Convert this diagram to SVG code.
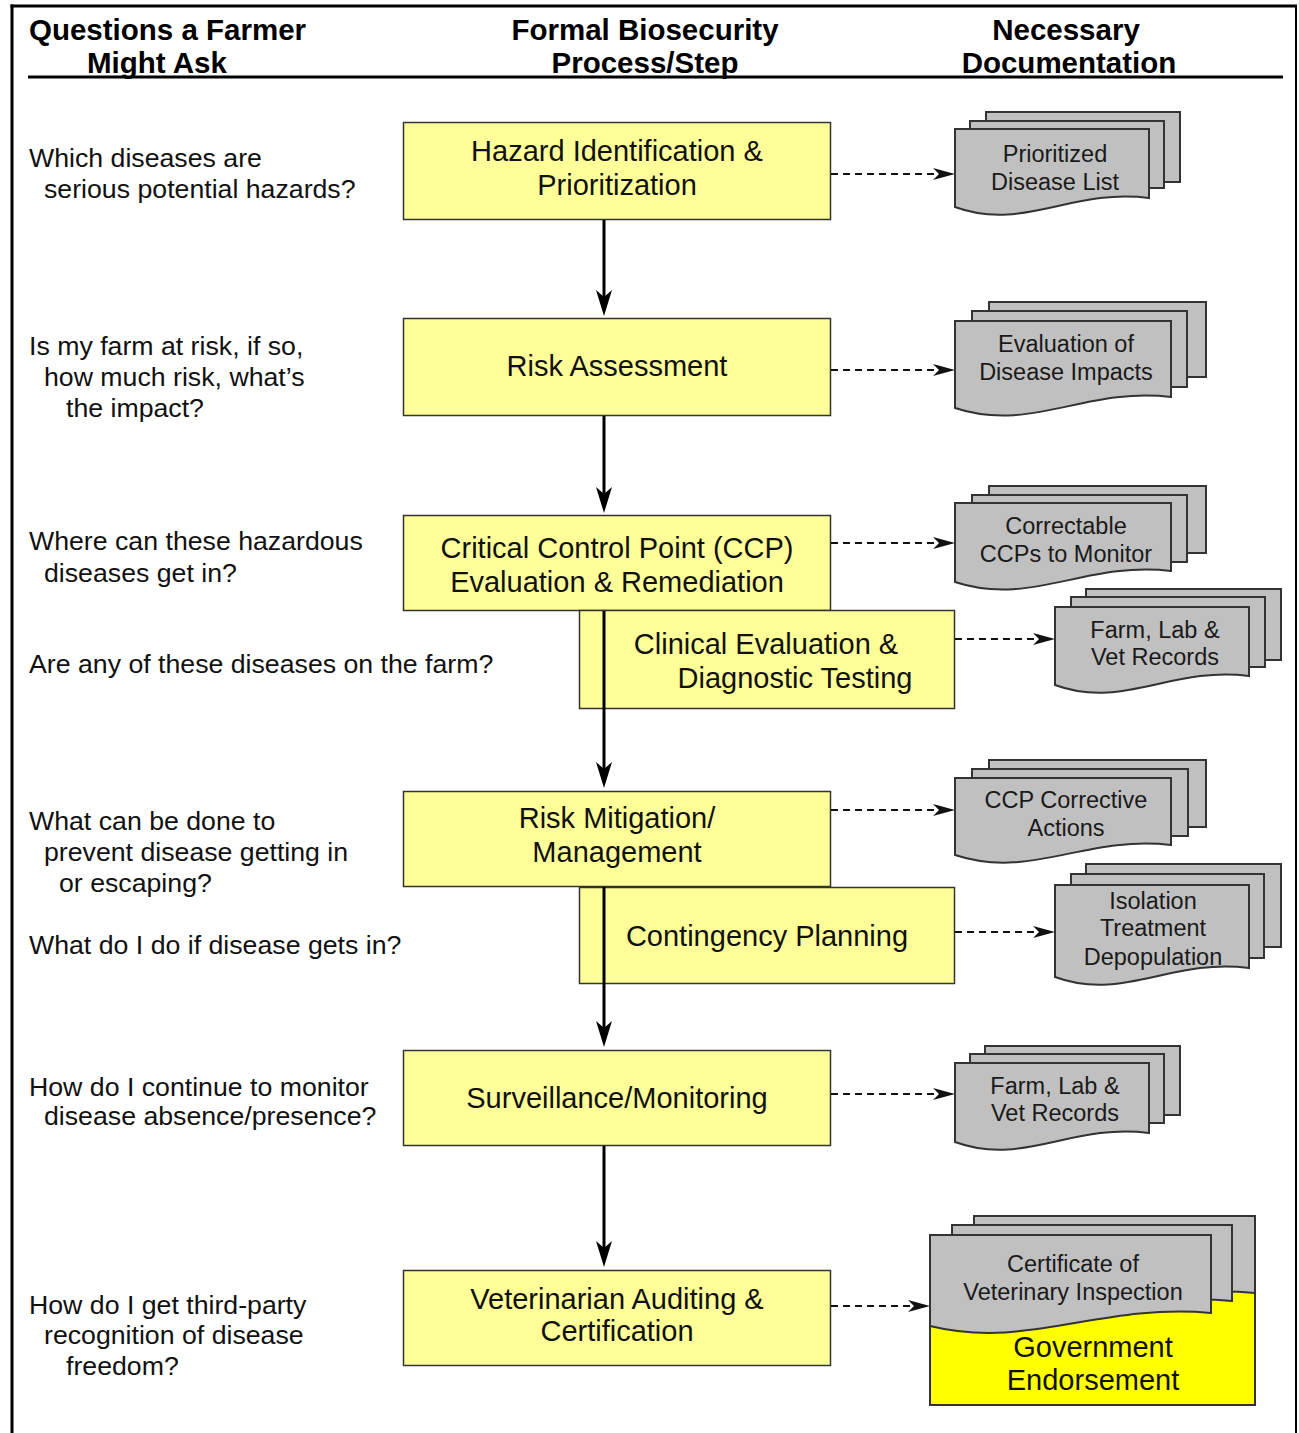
<svg xmlns="http://www.w3.org/2000/svg" width="1299" height="1433" viewBox="0 0 1299 1433">
<style>
.frame{stroke:#000;fill:none}
.hdr{font-family:"Liberation Sans",Arial,sans-serif;font-weight:bold;font-size:29.5px;fill:#000}
.q{font-family:"Liberation Sans",Arial,sans-serif;font-size:26.7px;fill:#111}
.step rect{fill:#FFFF99;stroke:#333;stroke-width:1.5}
.st{font-family:"Liberation Sans",Arial,sans-serif;font-size:29px;fill:#111;text-anchor:middle}
.sheet{fill:#C0C0C0;stroke:#333;stroke-width:2}
.dt{font-family:"Liberation Sans",Arial,sans-serif;font-size:23.5px;fill:#1a1a1a;text-anchor:middle}
.gov{font-family:"Liberation Sans",Arial,sans-serif;font-size:29px;fill:#111;text-anchor:middle}
.solid{stroke:#000;stroke-width:3;fill:none}
.dash{stroke:#111;stroke-width:1.8;stroke-dasharray:7 5;fill:none}
</style>
<defs>
<marker id="ahSolid" markerUnits="userSpaceOnUse" markerWidth="26" markerHeight="16" viewBox="0 0 26 16" refX="14" refY="8" orient="auto">
<path d="M0,0 L26,8 L0,16 L7,8 Z" fill="#000"/>
</marker>
<marker id="ahDash" markerUnits="userSpaceOnUse" markerWidth="22" markerHeight="12" viewBox="0 0 22 12" refX="10" refY="6" orient="auto">
<path d="M0,0 L22,6 L0,12 L6,6 Z" fill="#111"/>
</marker>
</defs>
<rect width="1299" height="1433" fill="#fff"/>
<g id="frame">
<line class="frame" x1="10.5" y1="6" x2="1297" y2="6" stroke-width="3"/>
<line class="frame" x1="12" y1="4.5" x2="12" y2="1433" stroke-width="3"/>
<line class="frame" x1="1296" y1="5" x2="1296" y2="1433" stroke-width="2"/>
<line class="frame" x1="28" y1="77" x2="1283" y2="77" stroke-width="3"/>
</g>
<g id="headers">
<text class="hdr" x="29" y="39.5">Questions a Farmer</text>
<text class="hdr" x="87" y="72.5">Might Ask</text>
<text class="hdr" x="645" y="39.5" text-anchor="middle">Formal Biosecurity</text>
<text class="hdr" x="645" y="72.5" text-anchor="middle">Process/Step</text>
<text class="hdr" x="1066" y="39.5" text-anchor="middle">Necessary</text>
<text class="hdr" x="1069" y="72.5" text-anchor="middle">Documentation</text>
</g>
<g id="questions">
<text class="q" x="29" y="166.5">Which diseases are</text>
<text class="q" x="44" y="197.5">serious potential hazards?</text>
<text class="q" x="29" y="354.5">Is my farm at risk, if so,</text>
<text class="q" x="44" y="385.5">how much risk, what’s</text>
<text class="q" x="66" y="416.5">the impact?</text>
<text class="q" x="29" y="549.5">Where can these hazardous</text>
<text class="q" x="44" y="581.5">diseases get in?</text>
<text class="q" x="29" y="672.5">Are any of these diseases on the farm?</text>
<text class="q" x="29" y="829.5">What can be done to</text>
<text class="q" x="44" y="860.5">prevent disease getting in</text>
<text class="q" x="59" y="891.5">or escaping?</text>
<text class="q" x="29" y="953.5">What do I do if disease gets in?</text>
<text class="q" x="29" y="1095.5">How do I continue to monitor</text>
<text class="q" x="44" y="1124.5">disease absence/presence?</text>
<text class="q" x="29" y="1313.5">How do I get third-party</text>
<text class="q" x="44" y="1343.5">recognition of disease</text>
<text class="q" x="66" y="1374.5">freedom?</text>
</g>
<g id="step-hazard" class="step">
<rect x="403.5" y="122.5" width="427" height="97"/>
<text class="st" x="617" y="161">Hazard Identification &amp;</text>
<text class="st" x="617" y="195">Prioritization</text>
</g>
<g id="step-risk" class="step">
<rect x="403.5" y="318.5" width="427" height="97"/>
<text class="st" x="617" y="376">Risk Assessment</text>
</g>
<g id="step-ccp" class="step">
<rect x="403.5" y="515.5" width="427" height="95"/>
<text class="st" x="617" y="558">Critical Control Point (CCP)</text>
<text class="st" x="617" y="592">Evaluation &amp; Remediation</text>
</g>
<g id="step-clinical" class="step">
<rect x="579.5" y="610.5" width="375" height="98"/>
<text class="st" x="766" y="654">Clinical Evaluation &amp;</text>
<text class="st" x="795" y="688">Diagnostic Testing</text>
</g>
<g id="step-mitigation" class="step">
<rect x="403.5" y="791.5" width="427" height="95"/>
<text class="st" x="617" y="828">Risk Mitigation/</text>
<text class="st" x="617" y="862">Management</text>
</g>
<g id="step-contingency" class="step">
<rect x="579.5" y="887.5" width="375" height="96"/>
<text class="st" x="767" y="946">Contingency Planning</text>
</g>
<g id="step-surveillance" class="step">
<rect x="403.5" y="1050.5" width="427" height="95"/>
<text class="st" x="617" y="1108">Surveillance/Monitoring</text>
</g>
<g id="step-vet" class="step">
<rect x="403.5" y="1270.5" width="427" height="95"/>
<text class="st" x="617" y="1309">Veterinarian Auditing &amp;</text>
<text class="st" x="617" y="1341">Certification</text>
</g>
<g id="doc-disease-list">
<rect class="sheet" x="986" y="112" width="194" height="70"/>
<rect class="sheet" x="970" y="121" width="194" height="67"/>
<path class="sheet" d="M955,129 H1149 V198 C1071,188 1023,232 955,207 Z"/>
<text class="dt" x="1055" y="161.5">Prioritized</text>
<text class="dt" x="1055" y="189.5">Disease List</text>
</g>
<g id="doc-impacts">
<rect class="sheet" x="989" y="302" width="217" height="75"/>
<rect class="sheet" x="972" y="311" width="215" height="76"/>
<path class="sheet" d="M955,321 H1171 V397 C1085,387 1031,433 955,408 Z"/>
<text class="dt" x="1066" y="351.5">Evaluation of</text>
<text class="dt" x="1066" y="379.5">Disease Impacts</text>
</g>
<g id="doc-ccps">
<rect class="sheet" x="989" y="486" width="217" height="67"/>
<rect class="sheet" x="972" y="495" width="215" height="67"/>
<path class="sheet" d="M955,503 H1171 V571 C1085,561 1031,607 955,582 Z"/>
<text class="dt" x="1066" y="533.5">Correctable</text>
<text class="dt" x="1066" y="561.5">CCPs to Monitor</text>
</g>
<g id="doc-records-1">
<rect class="sheet" x="1086" y="589" width="195" height="71"/>
<rect class="sheet" x="1071" y="597" width="194" height="70"/>
<path class="sheet" d="M1055,607 H1249 V676 C1171,666 1123,710 1055,685 Z"/>
<text class="dt" x="1155" y="637.5">Farm, Lab &amp;</text>
<text class="dt" x="1155" y="664.5">Vet Records</text>
</g>
<g id="doc-corrective">
<rect class="sheet" x="989" y="760" width="217" height="67"/>
<rect class="sheet" x="972" y="769" width="216" height="67"/>
<path class="sheet" d="M955,778 H1171 V845 C1085,835 1031,880 955,855 Z"/>
<text class="dt" x="1066" y="807.5">CCP Corrective</text>
<text class="dt" x="1066" y="835.5">Actions</text>
</g>
<g id="doc-isolation">
<rect class="sheet" x="1086" y="864" width="195" height="83"/>
<rect class="sheet" x="1071" y="874" width="193" height="84"/>
<path class="sheet" d="M1055,885 H1249 V968 C1171,958 1123,1002 1055,977 Z"/>
<text class="dt" x="1153" y="909">Isolation</text>
<text class="dt" x="1153" y="936">Treatment</text>
<text class="dt" x="1153" y="964.5">Depopulation</text>
</g>
<g id="doc-records-2">
<rect class="sheet" x="985" y="1046" width="195" height="69"/>
<rect class="sheet" x="970" y="1054" width="194" height="69"/>
<path class="sheet" d="M955,1063 H1149 V1133 C1071,1123 1023,1167 955,1142 Z"/>
<text class="dt" x="1055" y="1093.5">Farm, Lab &amp;</text>
<text class="dt" x="1055" y="1120.5">Vet Records</text>
</g>
<g id="doc-certificate">
<rect x="930" y="1285" width="325" height="120" fill="#FFFF00" stroke="#333" stroke-width="2"/>
<path class="sheet" d="M974,1216 H1255 V1293 C1143,1283 1072,1328 974,1303 Z"/>
<path class="sheet" d="M952,1225 H1232 V1301 C1120,1291 1050,1336 952,1311 Z"/>
<path class="sheet" d="M930,1235 H1211 V1313 C1099,1303 1028,1350 930,1326 Z"/>
<text class="dt" x="1073" y="1271.5">Certificate of</text>
<text class="dt" x="1073" y="1299.5">Veterinary Inspection</text>
<text class="gov" x="1093" y="1357">Government</text>
<text class="gov" x="1093" y="1390">Endorsement</text>
</g>
<g id="connectors">
<line class="solid" x1="604" y1="220" x2="604" y2="304" marker-end="url(#ahSolid)"/>
<line class="solid" x1="604" y1="416" x2="604" y2="501" marker-end="url(#ahSolid)"/>
<line class="solid" x1="604" y1="611" x2="604" y2="776" marker-end="url(#ahSolid)"/>
<line class="solid" x1="604" y1="887" x2="604" y2="1035" marker-end="url(#ahSolid)"/>
<line class="solid" x1="604" y1="1146" x2="604" y2="1255" marker-end="url(#ahSolid)"/>
<line class="dash" x1="831" y1="174" x2="943" y2="174" marker-end="url(#ahDash)"/>
<line class="dash" x1="831" y1="370" x2="943" y2="370" marker-end="url(#ahDash)"/>
<line class="dash" x1="831" y1="543" x2="943" y2="543" marker-end="url(#ahDash)"/>
<line class="dash" x1="955" y1="639" x2="1043" y2="639" marker-end="url(#ahDash)"/>
<line class="dash" x1="831" y1="810" x2="943" y2="810" marker-end="url(#ahDash)"/>
<line class="dash" x1="955" y1="932" x2="1043" y2="932" marker-end="url(#ahDash)"/>
<line class="dash" x1="831" y1="1094" x2="943" y2="1094" marker-end="url(#ahDash)"/>
<line class="dash" x1="831" y1="1306" x2="918" y2="1306" marker-end="url(#ahDash)"/>
</g>
</svg>
